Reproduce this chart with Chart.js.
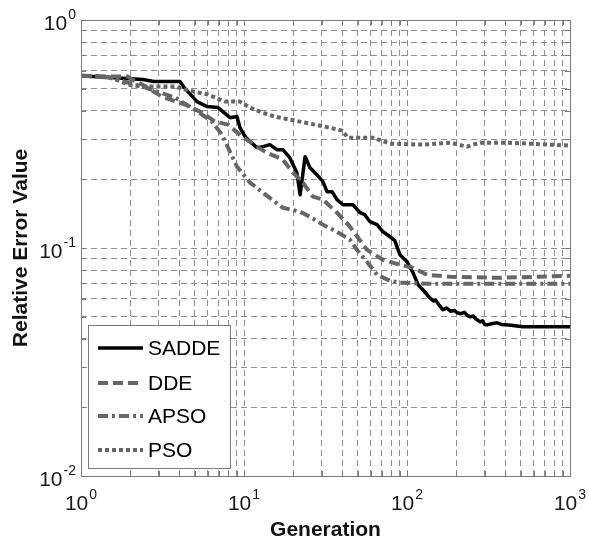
<!DOCTYPE html>
<html><head><meta charset="utf-8">
<script src="https://cdn.jsdelivr.net/npm/chart.js@4/dist/chart.umd.min.js"></script>
<style>html,body{margin:0;padding:0;background:#fff;}#wrap{width:589px;height:542px;}</style>
</head><body><div id="wrap"><canvas id="c" width="589" height="542"></canvas></div>
<script>
const seriesNames = ['SADDE', 'DDE', 'APSO', 'PSO'];

const saddeGen = [1, 1.51, 2.4, 2.8, 4.05, 4.3, 5.15, 5.93, 6.93, 8.2, 9.06, 9.45, 10.15, 10.9, 12.0, 13.1, 14.4, 15.9, 17.3, 19.1, 21.1, 22.1, 23.7, 25.4, 28.0, 30.5, 32.3, 34.7, 37.2, 40.5, 46.6, 51.5, 55, 59.3, 65.5, 71.3, 78.7, 84, 86.8, 90.6, 100, 109, 117, 125, 138, 145, 150, 158, 166, 175, 185, 195, 203, 215, 225, 235, 244, 255, 265, 281, 290, 300, 310, 330, 357, 380, 420, 470, 515, 1000];
const saddeErr = [0.570, 0.559, 0.548, 0.537, 0.537, 0.505, 0.4386, 0.417, 0.413, 0.373, 0.377, 0.337, 0.308, 0.2927, 0.2756, 0.2784, 0.284, 0.270, 0.270, 0.249, 0.214, 0.1713, 0.2516, 0.2251, 0.2097, 0.1954, 0.1766, 0.1766, 0.1629, 0.1548, 0.1548, 0.1428, 0.1400, 0.1304, 0.1265, 0.1178, 0.1120, 0.1080, 0.1013, 0.0934, 0.0870, 0.0778, 0.0690, 0.0656, 0.0605, 0.0585, 0.0590, 0.0560, 0.0536, 0.0545, 0.0528, 0.0532, 0.0520, 0.0515, 0.0522, 0.0505, 0.0499, 0.0503, 0.0488, 0.0474, 0.0480, 0.0462, 0.0460, 0.0465, 0.0470, 0.0462, 0.0460, 0.0455, 0.0451, 0.0451];

const ddeGen = [1, 1.51, 1.94, 2.06, 2.37, 3.14, 4.35, 5.53, 6.64, 7.98, 9.72, 12.0, 13.8, 17.3, 20.0, 23.0, 26.5, 30.5, 37.2, 44.7, 56.8, 71.3, 90.6, 109, 133, 184, 372, 1000];
const ddeErr = [0.570, 0.565, 0.565, 0.548, 0.521, 0.461, 0.4256, 0.3925, 0.3583, 0.3476, 0.308, 0.2784, 0.2619, 0.244, 0.214, 0.1934, 0.1679, 0.1629, 0.1428, 0.1240, 0.0982, 0.0888, 0.0844, 0.0819, 0.0763, 0.0748, 0.0740, 0.0755];

const apsoGen = [1, 1.51, 2.37, 3.77, 5.22, 6.36, 7.33, 7.98, 9.06, 10.9, 13.8, 17.3, 22.1, 25.4, 30.5, 37.2, 44.7, 49.3, 56.8, 65.5, 78.7, 90.6, 138, 1000];
const apsoErr = [0.570, 0.559, 0.511, 0.457, 0.3965, 0.3583, 0.3142, 0.2756, 0.2274, 0.1934, 0.1696, 0.1502, 0.1442, 0.1371, 0.1265, 0.1178, 0.1087, 0.0982, 0.0870, 0.0763, 0.0718, 0.0704, 0.0697, 0.0697];

const psoGen = [1, 1.51, 2.06, 2.73, 3.77, 4.35, 6.01, 7.65, 9.45, 10.9, 12.9, 15.5, 19.1, 25.4, 33.7, 39.9, 43.5, 61.9, 78.7, 125, 184, 233, 281, 388, 568, 1000];
const psoErr = [0.570, 0.559, 0.515, 0.511, 0.511, 0.495, 0.471, 0.4386, 0.4386, 0.413, 0.3925, 0.377, 0.3656, 0.3512, 0.337, 0.3271, 0.3048, 0.3048, 0.2869, 0.284, 0.2898, 0.2784, 0.2898, 0.2898, 0.2869, 0.2812];

const xMajorTicks = [1, 10, 100, 1000];
const xTickLabels = ['10^0', '10^1', '10^2', '10^3'];
const yMajorTicks = [0.01, 0.1, 1];
const yTickLabels = ['10^-2', '10^-1', '10^0'];
const xAxisTitle = 'Generation';
const yAxisTitle = 'Relative Error Value';

const FONT = '"Liberation Sans", Arial, Helvetica, sans-serif';

function allTicks(majors) {
  const out = [];
  for (let i = 0; i < majors.length; i++) {
    if (i === majors.length - 1) { out.push(majors[i]); break; }
    for (let k = 1; k <= 9; k++) out.push(Number((majors[i] * k).toPrecision(8)));
  }
  return out;
}
function pts(g, e) { return g.map((x, i) => ({ x: x, y: e[i] })); }

const styles = [
  { color: '#000000', width: 3.5, dash: [] },
  { color: '#666666', width: 4, dash: [10, 5] },
  { color: '#666666', width: 4, dash: [10, 4, 3, 4] },
  { color: '#666666', width: 4, dash: [4, 3] }
];
const seriesData = [pts(saddeGen, saddeErr), pts(ddeGen, ddeErr), pts(apsoGen, apsoErr), pts(psoGen, psoErr)];

const datasets = seriesNames.map((n, i) => ({
  label: n,
  data: seriesData[i],
  borderColor: styles[i].color,
  borderWidth: styles[i].width,
  borderDash: styles[i].dash,
  borderCapStyle: 'butt',
  borderJoinStyle: 'round',
  pointRadius: 0,
  fill: false,
  tension: 0
})).reverse();

// draw "10" with a raised exponent; align: 'center' or 'right'
function drawPow(ctx, label, x, baseY, align) {
  const parts = label.split('^');
  ctx.font = '21px ' + FONT;
  const wb = ctx.measureText(parts[0]).width;
  ctx.font = '14px ' + FONT;
  const we = ctx.measureText(parts[1]).width;
  const total = wb + we + 1;
  const x0 = align === 'center' ? x - total / 2 : x - total;
  ctx.fillStyle = '#1a1a1a';
  ctx.textAlign = 'left';
  ctx.textBaseline = 'alphabetic';
  ctx.font = '21px ' + FONT;
  ctx.fillText(parts[0], x0, baseY);
  ctx.font = '14px ' + FONT;
  ctx.fillText(parts[1], x0 + wb + 1, baseY - 11);
}

const framePlugin = {
  id: 'frameLegend',
  afterDraw(chart) {
    const { ctx, chartArea: a, scales: { x, y } } = chart;
    ctx.save();
    ctx.setLineDash([]);
    ctx.strokeStyle = '#7a7a7a';
    ctx.lineWidth = 1;
    ctx.beginPath();
    x.ticks.forEach(t => {
      const px = Math.round(x.getPixelForValue(t.value)) + 0.5;
      ctx.moveTo(px, a.bottom); ctx.lineTo(px, a.bottom - 5);
      ctx.moveTo(px, a.top); ctx.lineTo(px, a.top + 5);
    });
    y.ticks.forEach(t => {
      const py = Math.round(y.getPixelForValue(t.value)) + 0.5;
      ctx.moveTo(a.left, py); ctx.lineTo(a.left + 5, py);
      ctx.moveTo(a.right, py); ctx.lineTo(a.right - 5, py);
    });
    ctx.stroke();
    ctx.strokeRect(a.left + 0.5, a.top + 0.5, a.right - a.left, a.bottom - a.top);

    // tick labels with superscript exponents, placed by the scales
    xMajorTicks.forEach((v, i) => drawPow(ctx, xTickLabels[i], x.getPixelForValue(v), a.bottom + 34, 'center'));
    yMajorTicks.forEach((v, i) => drawPow(ctx, yTickLabels[i], a.left - 5, y.getPixelForValue(v) + 10, 'right'));

    // legend box
    const bx = a.left + 7, by = a.bottom - 151, bw = 142, bh = 143;
    ctx.fillStyle = '#ffffff';
    ctx.fillRect(bx, by, bw, bh);
    ctx.strokeStyle = '#7a7a7a';
    ctx.lineWidth = 1;
    ctx.strokeRect(bx + 0.5, by + 0.5, bw, bh);
    const rows = [23, 58, 91, 125];
    ctx.font = '21px ' + FONT;
    ctx.textBaseline = 'middle';
    ctx.textAlign = 'left';
    seriesNames.forEach((n, i) => {
      const ry = by + rows[i];
      ctx.beginPath();
      ctx.strokeStyle = styles[i].color;
      ctx.lineWidth = styles[i].width;
      ctx.setLineDash(styles[i].dash);
      ctx.lineCap = 'butt';
      ctx.moveTo(bx + 10, ry);
      ctx.lineTo(bx + 55, ry);
      ctx.stroke();
      ctx.setLineDash([]);
      ctx.fillStyle = '#000000';
      ctx.fillText(n, bx + 60, ry + 1);
    });
    ctx.restore();
  }
};

new Chart(document.getElementById('c'), {
  type: 'line',
  data: { datasets: datasets },
  options: {
    responsive: false,
    animation: false,
    devicePixelRatio: 1,
    layout: { padding: { top: 20, right: 19, left: 0, bottom: 0 } },
    plugins: { legend: { display: false }, tooltip: { enabled: false } },
    scales: {
      x: {
        type: 'logarithmic',
        min: 1, max: 1000,
        afterBuildTicks: s => { s.ticks = allTicks(xMajorTicks).map(v => ({ value: v })); },
        afterFit: s => { s.height = 66; },
        ticks: { display: false, autoSkip: false, maxRotation: 0 },
        grid: { color: '#8f8f8f', lineWidth: 1, drawTicks: false },
        border: { display: false, dash: [6, 4] },
        title: { display: true, text: xAxisTitle, color: '#111', padding: { top: 0, bottom: 0 },
          font: { family: FONT, size: 21, weight: 'bold', lineHeight: 1.1 } }
      },
      y: {
        type: 'logarithmic',
        min: 0.01, max: 1,
        afterBuildTicks: s => { s.ticks = allTicks(yMajorTicks).map(v => ({ value: v })); },
        afterFit: s => { s.width = 81; },
        ticks: { display: false, autoSkip: false },
        grid: { color: '#8f8f8f', lineWidth: 1, drawTicks: false },
        border: { display: false, dash: [6, 4] },
        title: { display: true, text: yAxisTitle, color: '#111', padding: { top: 10, bottom: 0 },
          font: { family: FONT, size: 21, weight: 'bold', lineHeight: 1.1 } }
      }
    }
  },
  plugins: [framePlugin]
});
</script>
</body></html>
